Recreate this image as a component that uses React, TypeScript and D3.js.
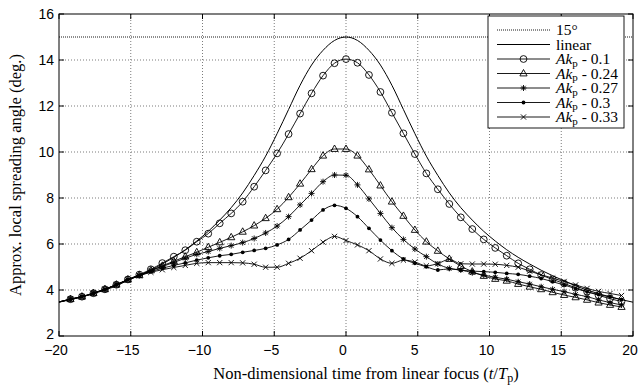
import React from 'react';
import * as d3 from 'd3';

const TIME = [-20, -19.2, -18.4, -17.6, -16.8, -16, -15.2, -14.4, -13.6, -12.8, -12, -11.2, -10.4, -9.6, -8.8, -8, -7.2, -6.4, -5.6, -4.8, -4, -3.2, -2.4, -1.6, -0.8, 0, 0.8, 1.6, 2.4, 3.2, 4, 4.8, 5.6, 6.4, 7.2, 8, 8.8, 9.6, 10.4, 11.2, 12, 12.8, 13.6, 14.4, 15.2, 16, 16.8, 17.6, 18.4, 19.2, 20];

const LINEAR = [3.47, 3.58, 3.7, 3.84, 4.0, 4.18, 4.42, 4.63, 4.86, 5.13, 5.42, 5.75, 6.13, 6.55, 7.04, 7.58, 8.22, 8.98, 9.82, 10.8, 11.85, 12.9, 13.78, 14.42, 14.85, 15.0, 14.85, 14.42, 13.78, 12.9, 11.85, 10.8, 9.82, 8.98, 8.22, 7.58, 7.04, 6.55, 6.13, 5.75, 5.42, 5.13, 4.86, 4.62, 4.4, 4.18, 4.0, 3.84, 3.7, 3.58, 3.47];

const AK_010 = [3.48, 3.6, 3.71, 3.86, 4.03, 4.23, 4.46, 4.67, 4.9, 5.17, 5.45, 5.73, 6.1, 6.45, 6.9, 7.33, 7.84, 8.49, 9.2, 9.94, 10.78, 11.67, 12.55, 13.32, 13.86, 14.04, 13.88, 13.35, 12.61, 11.71, 10.81, 9.91, 9.07, 8.38, 7.74, 7.16, 6.65, 6.2, 5.83, 5.49, 5.16, 4.9, 4.65, 4.46, 4.28, 4.1, 3.93, 3.77, 3.62, 3.5];

const AK_024 = [3.48, 3.6, 3.71, 3.86, 4.03, 4.23, 4.45, 4.64, 4.85, 5.05, 5.25, 5.45, 5.64, 5.86, 6.07, 6.29, 6.53, 6.8, 7.12, 7.51, 8.03, 8.62, 9.25, 9.84, 10.13, 10.13, 9.84, 9.24, 8.54, 7.84, 7.22, 6.61, 6.1, 5.7, 5.35, 5.04, 4.8, 4.61, 4.48, 4.4, 4.26, 4.14, 4.03, 3.9, 3.78, 3.68, 3.57, 3.45, 3.35, 3.26];

const AK_027 = [3.48, 3.6, 3.71, 3.86, 4.03, 4.23, 4.45, 4.64, 4.84, 5.02, 5.2, 5.38, 5.55, 5.67, 5.81, 5.93, 6.06, 6.24, 6.48, 6.78, 7.19, 7.7, 8.2, 8.71, 9.0, 8.99, 8.57, 7.96, 7.33, 6.71, 6.2, 5.78, 5.45, 5.13, 4.94, 4.87, 4.75, 4.65, 4.55, 4.47, 4.36, 4.26, 4.14, 4.03, 3.93, 3.81, 3.71, 3.57, 3.45, 3.35];

const AK_030 = [3.48, 3.6, 3.71, 3.86, 4.03, 4.23, 4.45, 4.63, 4.8, 4.95, 5.07, 5.18, 5.3, 5.4, 5.49, 5.55, 5.64, 5.72, 5.81, 5.96, 6.2, 6.61, 7.04, 7.48, 7.68, 7.55, 7.19, 6.68, 6.17, 5.71, 5.35, 5.16, 5.01, 4.87, 4.92, 4.86, 4.82, 4.8, 4.77, 4.72, 4.68, 4.6, 4.5, 4.36, 4.22, 4.06, 3.92, 3.8, 3.7, 3.58];

const AK_033 = [3.48, 3.6, 3.71, 3.86, 4.03, 4.23, 4.44, 4.62, 4.77, 4.88, 4.98, 5.07, 5.16, 5.19, 5.19, 5.19, 5.18, 5.12, 4.99, 4.99, 5.16, 5.38, 5.71, 6.08, 6.33, 6.15, 5.96, 5.71, 5.35, 5.16, 5.3, 5.22, 5.05, 5.15, 5.33, 5.14, 5.13, 5.13, 5.12, 5.07, 4.99, 4.82, 4.66, 4.52, 4.37, 4.22, 4.07, 3.94, 3.85, 3.76];

const X_TICKS = [-20, -15, -10, -5, 0, 5, 10, 15, 20];
const Y_TICKS = [2, 4, 6, 8, 10, 12, 14, 16];
const REF_ANGLE = 15;
const AK_LABELS = ['0.1', '0.24', '0.27', '0.3', '0.33'];
const AK_MARKERS = ['o', '^', '*', '.', 'x'];

const W = 638, H = 385;
const L = 59, R = 633, T = 14, B = 336;
const SERIF = '"Liberation Serif", "Times New Roman", serif';
const SANS = '"Liberation Sans", Arial, sans-serif';

function Marker({ type, cx, cy }: { type: string; cx: number; cy: number }) {
  const s = { stroke: '#000', strokeWidth: 0.9, fill: 'none' };
  if (type === 'o') return <circle cx={cx} cy={cy} r={3.4} {...s} />;
  if (type === '^')
    return <path d={`M${cx},${cy - 4}L${cx - 3.6},${cy + 2.4}L${cx + 3.6},${cy + 2.4}Z`} {...s} />;
  if (type === '*')
    return (
      <path
        d={`M${cx - 3},${cy}L${cx + 3},${cy}M${cx},${cy - 3}L${cx},${cy + 3}M${cx - 2.2},${cy - 2.2}L${cx + 2.2},${cy + 2.2}M${cx - 2.2},${cy + 2.2}L${cx + 2.2},${cy - 2.2}`}
        {...s}
      />
    );
  if (type === '.') return <circle cx={cx} cy={cy} r={1.9} fill="#000" />;
  return (
    <path d={`M${cx - 2.6},${cy - 2.6}L${cx + 2.6},${cy + 2.6}M${cx - 2.6},${cy + 2.6}L${cx + 2.6},${cy - 2.6}`} {...s} />
  );
}

export default function App() {
  const x = d3.scaleLinear().domain([-20, 20]).range([L, R]);
  const y = d3.scaleLinear().domain([2, 16]).range([B, T]);
  const line = d3
    .line<number>()
    .x((_, i) => x(TIME[i]))
    .y((d) => y(d))
    .curve(d3.curveMonotoneX);

  const series = [AK_010, AK_024, AK_027, AK_030, AK_033];

  const legendRows = [30, 44.5, 59, 73.5, 88, 102.5, 117];
  const lx0 = 497, lx1 = 550, ltx = 556;

  return (
    <svg width={W} height={H} style={{ position: 'absolute', left: 0, top: 0, background: '#fff' }}>
      <defs>
        <clipPath id="plotclip">
          <rect x={L} y={T} width={R - L} height={B - T} />
        </clipPath>
      </defs>
      <rect x={0} y={0} width={W} height={H} fill="#fff" />
      {X_TICKS.slice(1, -1).map((t) => (
        <line key={'gx' + t} x1={x(t)} x2={x(t)} y1={T} y2={B} stroke="#444" strokeWidth={0.7} strokeDasharray="1,2" />
      ))}
      {Y_TICKS.slice(1, -1).map((v) => (
        <line key={'gy' + v} x1={L} x2={R} y1={y(v)} y2={y(v)} stroke="#444" strokeWidth={0.7} strokeDasharray="1,2" />
      ))}
      <line x1={L} x2={R} y1={y(REF_ANGLE)} y2={y(REF_ANGLE)} stroke="#000" strokeWidth={0.9} strokeDasharray="1,1" />
      <g clipPath="url(#plotclip)">
        <path d={line(LINEAR) || ''} fill="none" stroke="#000" strokeWidth={1} />
        {series.map((s, k) => (
          <path key={'s' + k} d={line(s) || ''} fill="none" stroke="#000" strokeWidth={0.9} />
        ))}
        {series.map((s, k) =>
          s.map((v, i) =>
            i === 0 ? null : <Marker key={`m${k}-${i}`} type={AK_MARKERS[k]} cx={x(TIME[i])} cy={y(v)} />
          )
        )}
      </g>
      <rect x={L} y={T} width={R - L} height={B - T} fill="none" stroke="#000" strokeWidth={1} />
      {X_TICKS.map((t) => (
        <g key={'xt' + t}>
          <line x1={x(t)} x2={x(t)} y1={B} y2={B - 5} stroke="#000" />
          <line x1={x(t)} x2={x(t)} y1={T} y2={T + 5} stroke="#000" />
          <text x={x(t) - 3} y={355} textAnchor="middle" fontFamily={SANS} fontSize={14}>
            {t < 0 ? '\u2212' + Math.abs(t) : String(t)}
          </text>
        </g>
      ))}
      {Y_TICKS.map((v) => (
        <g key={'yt' + v}>
          <line x1={L} x2={L + 5} y1={y(v)} y2={y(v)} stroke="#000" />
          <line x1={R} x2={R - 5} y1={y(v)} y2={y(v)} stroke="#000" />
          <text x={54} y={y(v) + (v === 2 ? 3 : 5)} textAnchor="end" fontFamily={SANS} fontSize={14}>
            {String(v)}
          </text>
        </g>
      ))}
      <text x={366} y={379} textAnchor="middle" fontFamily={SERIF} fontSize={16.5}>
        Non-dimensional time from linear focus (<tspan fontStyle="italic">t</tspan>/<tspan fontStyle="italic">T</tspan>
        <tspan fontSize={12} dy={3}>p</tspan>
        <tspan dy={-3}>)</tspan>
      </text>
      <text transform={`translate(21,${(T + B) / 2}) rotate(-90)`} textAnchor="middle" fontFamily={SERIF} fontSize={16.5}>
        Approx. local spreading angle (deg.)
      </text>
      <rect x={488} y={16} width={136} height={112} fill="#fff" stroke="#000" strokeWidth={0.9} />
      <line x1={lx0} x2={lx1} y1={legendRows[0]} y2={legendRows[0]} stroke="#000" strokeWidth={0.9} strokeDasharray="1,1" />
      <text x={ltx} y={legendRows[0] + 5} fontFamily={SERIF} fontSize={15.5}>15°</text>
      <line x1={lx0} x2={lx1} y1={legendRows[1]} y2={legendRows[1]} stroke="#000" strokeWidth={1} />
      <text x={ltx} y={legendRows[1] + 5} fontFamily={SERIF} fontSize={15.5}>linear</text>
      {AK_LABELS.map((lab, k) => {
        const ry = legendRows[k + 2];
        return (
          <g key={'lg' + k}>
            <line x1={lx0} x2={lx1} y1={ry} y2={ry} stroke="#000" strokeWidth={0.9} />
            <Marker type={AK_MARKERS[k]} cx={(lx0 + lx1) / 2} cy={ry} />
            <text x={ltx} y={ry + 5} fontFamily={SERIF} fontSize={15.5}>
              <tspan fontStyle="italic">Ak</tspan>
              <tspan fontSize={11} dy={2.5}>p</tspan>
              <tspan dy={-2.5}>{' - ' + lab}</tspan>
            </text>
          </g>
        );
      })}
    </svg>
  );
}
